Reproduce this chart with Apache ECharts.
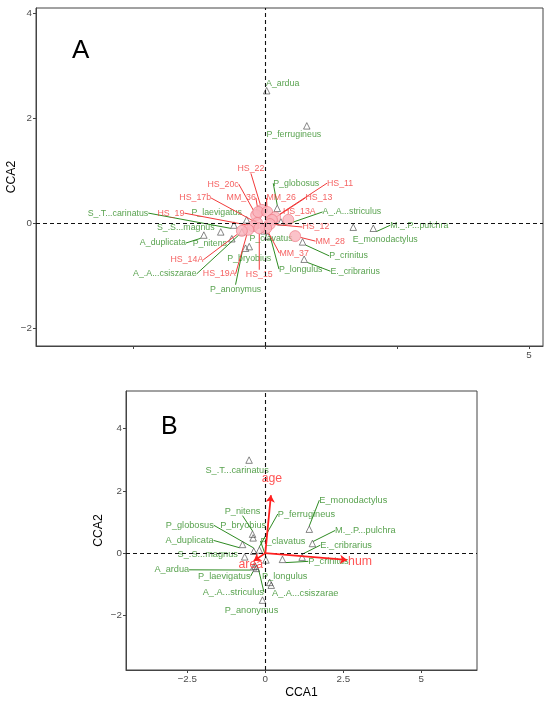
<!DOCTYPE html>
<html><head><meta charset="utf-8">
<script src="https://cdn.jsdelivr.net/npm/echarts@6/dist/echarts.min.js"></script>
<style>html,body{margin:0;padding:0;background:#fff}#c{width:550px;height:703px}</style>
</head><body><div id="c"></div>
<script>
// ---------- DATA ----------
// Panel A: species scores
const speciesA = ['A_ardua','P_ferrugineus','P_globosus','A_.A...striculus','M._.P...pulchra','E_monodactylus','P_crinitus','E._cribrarius','P_longulus','P_clavatus','P_bryobius','P_anonymus','P_nitens','S_.S...magnus','A_duplicata','S_.T...carinatus','P_laevigatus','A_.A...csiszarae'];
const speciesA_CCA1 = [0.03,0.79,0.23,0.30,2.05,1.67,0.71,0.74,0.05,-0.02,-0.30,-0.37,-0.63,-0.84,-1.16,-0.59,-0.35,-0.44];
const speciesA_CCA2 = [2.52,1.85,0.28,0.02,-0.10,-0.08,-0.36,-0.69,-0.25,-0.15,-0.45,-0.48,-0.30,-0.17,-0.23,-0.04,0.06,-0.17];
// Panel A: site scores
const sitesA = ['HS_22','HS_20c','HS_17b','HS_19','MM_36','MM_26','HS_11','HS_13','HS_13A','HS_12','MM_28','MM_37','HS_15','HS_19A','HS_14A'];
const sitesA_CCA1 = [-0.06,-0.17,-0.15,-0.23,-0.13,0.04,0.19,0.13,0.44,0.09,0.57,0.02,-0.11,-0.32,-0.44];
const sitesA_CCA2 = [0.25,0.15,0.00,-0.06,0.21,0.21,0.11,0.06,0.06,-0.02,-0.25,-0.10,-0.10,-0.13,-0.15];
// Panel B: species scores
const speciesB = ['S_.T...carinatus','P_nitens','P_ferrugineus','E_monodactylus','P_globosus','P_bryobius','M._.P...pulchra','A_duplicata','P_clavatus','E._cribrarius','S_.S...magnus','P_crinitus','A_ardua','P_laevigatus','P_longulus','A_.A...striculus','A_.A...csiszarae','P_anonymus'];
const speciesB_CCA1 = [-0.52,-0.41,-0.19,1.41,-0.37,-0.39,1.51,-0.73,0.02,1.18,-0.66,0.55,-0.37,-0.29,0.14,-0.32,0.19,-0.09];
const speciesB_CCA2 = [2.99,0.61,0.10,0.77,0.06,0.49,0.31,0.28,-0.22,-0.13,-0.12,-0.20,-0.44,-0.49,-0.94,-0.42,-1.03,-1.51];
// Panel B: environmental vectors
const envB = ['age','hum','area'];
const envB_CCA1 = [0.18,2.62,-0.37];
const envB_CCA2 = [1.86,-0.22,-0.25];
// Axis ticks
const ticksA_x = [-2.5,0,2.5,5];
const labelsA_x = [5];
const ticksA_y = [-2,0,2,4];
const ticksB_x = [-2.5,0,2.5,5];
const ticksB_y = [-2,0,2,4];

// ---------- LAYOUT (label offsets in px: dx, dy, leader line) ----------
const offSpeciesA = [[16,-7,0],[-13,9,0],[19,-25,1],[71,-10,1],[46,-3,1],[32,12,0],[46,14,1],[51,12,1],[33,33,1],[7,8,0],[0,12,0],[-10,41,1],[-22,5,0],[-35,-4,0],[-41,8,1],[-116,-12,1],[-30,-7,0],[-77,42,1]];
const offSitesA = [[-11,-41,1],[-33,-31,1],[-62,-25,1],[-82,-13,1],[-17,-14,1],[14,-14,1],[65,-34,1],[47,-22,1],[11,-8,0],[46,3,1],[35,5,1],[28,25,1],[0,46,1],[-29,44,1],[-55,29,1]];
const offSpeciesB = [[-12,10,0],[-10,-23,1],[47,-36,1],[44,-29,1],[-64,-26,1],[-10,-12,0],[53,-13,1],[-53,-4,1],[17,-19,1],[44,-12,1],[-37,-2,0],[46,2,1],[-82,3,1],[-32,8,1],[15,-6,0],[-22,26,1],[34,8,0],[-11,10,0]];
const offEnvB = [[1,-17],[13,2],[-3,4]];

const GREEN = '#2E8B22', RED = '#F23A3A', FONT = 'Liberation Sans, Arial, sans-serif';
const fmt = v => String(v).replace('-', '\u2212');

function pts(names, xs, ys, offs){
  return names.map((n,i)=>{
    const d = {name:n, value:[xs[i], ys[i]]};
    if (!offs[i][2]) d.labelLine = {show:false};
    return d;
  });
}
function axisCommon(){
  return {
    type:'value', splitLine:{show:false},
    axisLine:{show:true, onZero:false, lineStyle:{color:'#444', width:1}},
    axisTick:{show:true, length:3, lineStyle:{color:'#444'}},
    axisLabel:{color:'#4D4D4D', fontSize:9.8, fontFamily:FONT, margin:4, formatter:fmt}
  };
}
function mk(o){ return Object.assign(axisCommon(), o, {
  axisTick:Object.assign(axisCommon().axisTick, o.axisTick||{}),
  axisLabel:Object.assign(axisCommon().axisLabel, o.axisLabel||{})
});}

const dashed = idx => ({
  type:'scatter', xAxisIndex:idx, yAxisIndex:idx, data:[], z:1, silent:true,
  markLine:{silent:true, symbol:'none', label:{show:false},
    lineStyle:{color:'#111', type:[4,3], width:1.1},
    data:[{xAxis:0},{yAxis:0}]}
});

const chart = echarts.init(document.getElementById('c'), null, {renderer:'canvas'});
chart.setOption({
  animation:false,
  backgroundColor:'#fff',
  textStyle:{fontFamily:FONT},
  graphic:[
    {type:'text', left:72, top:38, style:{text:'A', fontSize:26, fontFamily:FONT, fill:'#000'}},
    {type:'text', left:161, top:415, style:{text:'B', fontSize:25, fontFamily:FONT, fill:'#000'}}
  ],
  grid:[
    {left:36, top:8, width:507, height:338, show:true, borderColor:'#444', borderWidth:1, backgroundColor:'transparent', outerBoundsMode:'none', containLabel:false},
    {left:126, top:391, width:351, height:279, show:true, borderColor:'#444', borderWidth:1, backgroundColor:'transparent', outerBoundsMode:'none', containLabel:false}
  ],
  xAxis:[
    mk({gridIndex:0, min:-4.34, max:5.265, axisTick:{customValues:ticksA_x}, axisLabel:{customValues:labelsA_x}}),
    mk({gridIndex:1, min:-4.465, max:6.785, axisTick:{customValues:ticksB_x}, axisLabel:{customValues:ticksB_x},
      name:'CCA1', nameLocation:'middle', nameGap:17, nameMoveOverlap:false, nameTextStyle:{color:'#000', fontSize:12.2, fontFamily:FONT}})
  ],
  yAxis:[
    mk({gridIndex:0, min:-2.343, max:4.095, axisTick:{customValues:ticksA_y}, axisLabel:{customValues:ticksA_y},
      name:'CCA2', nameLocation:'middle', nameGap:18, nameMoveOverlap:false, nameTextStyle:{color:'#000', fontSize:12.2, fontFamily:FONT}}),
    mk({gridIndex:1, min:-3.756, max:5.21, axisTick:{customValues:ticksB_y}, axisLabel:{customValues:ticksB_y},
      name:'CCA2', nameLocation:'middle', nameGap:21, nameMoveOverlap:false, nameTextStyle:{color:'#000', fontSize:12.2, fontFamily:FONT}})
  ],
  series:[
    dashed(0), dashed(1),
    { // Panel A species
      type:'scatter', xAxisIndex:0, yAxisIndex:0, z:3, silent:true,
      symbol:'triangle', symbolSize:6.5,
      itemStyle:{color:'rgba(255,255,255,0)', borderColor:'#444', borderWidth:0.8},
      data:pts(speciesA, speciesA_CCA1, speciesA_CCA2, offSpeciesA),
      label:{show:true, position:'inside', formatter:'{b}', color:GREEN, fontSize:8.8, fontFamily:FONT},
      labelLine:{show:true, lineStyle:{color:GREEN, width:1}},
      labelLayout:p=>({dx:offSpeciesA[p.dataIndex][0], dy:offSpeciesA[p.dataIndex][1]})
    },
    { // Panel A sites
      type:'scatter', xAxisIndex:0, yAxisIndex:0, z:4, silent:true,
      symbol:'circle', symbolSize:11,
      itemStyle:{color:'#FAB3BC', borderColor:'#EE7480', borderWidth:0.8},
      data:pts(sitesA, sitesA_CCA1, sitesA_CCA2, offSitesA),
      label:{show:true, position:'inside', formatter:'{b}', color:RED, fontSize:8.8, fontFamily:FONT},
      labelLine:{show:true, lineStyle:{color:RED, width:1}},
      labelLayout:p=>({dx:offSitesA[p.dataIndex][0], dy:offSitesA[p.dataIndex][1]})
    },
    { // Panel B species
      type:'scatter', xAxisIndex:1, yAxisIndex:1, z:3, silent:true,
      symbol:'triangle', symbolSize:6.5,
      itemStyle:{color:'rgba(255,255,255,0)', borderColor:'#444', borderWidth:0.8},
      data:pts(speciesB, speciesB_CCA1, speciesB_CCA2, offSpeciesB),
      label:{show:true, position:'inside', formatter:'{b}', color:GREEN, fontSize:9.2, fontFamily:FONT},
      labelLine:{show:true, lineStyle:{color:GREEN, width:1}},
      labelLayout:p=>({dx:offSpeciesB[p.dataIndex][0], dy:offSpeciesB[p.dataIndex][1]})
    },
    { // Panel B environmental arrows
      type:'lines', coordinateSystem:'cartesian2d', xAxisIndex:1, yAxisIndex:1, z:5, silent:true,
      symbol:['none','arrow'], symbolSize:7,
      lineStyle:{color:'#FF2020', width:1.8, opacity:1},
      data:envB.map((n,i)=>({name:n, coords:[[0,0],[envB_CCA1[i], envB_CCA2[i]]]}))
    },
    { // Panel B arrow labels
      type:'scatter', xAxisIndex:1, yAxisIndex:1, z:6, silent:true,
      symbolSize:0,
      data:envB.map((n,i)=>({name:n, value:[envB_CCA1[i], envB_CCA2[i]]})),
      label:{show:true, position:'inside', formatter:'{b}', color:'#FF2A2A', fontSize:12.3, fontFamily:FONT},
      labelLayout:p=>({dx:offEnvB[p.dataIndex][0], dy:offEnvB[p.dataIndex][1]})
    }
  ]
});
</script></body></html>
